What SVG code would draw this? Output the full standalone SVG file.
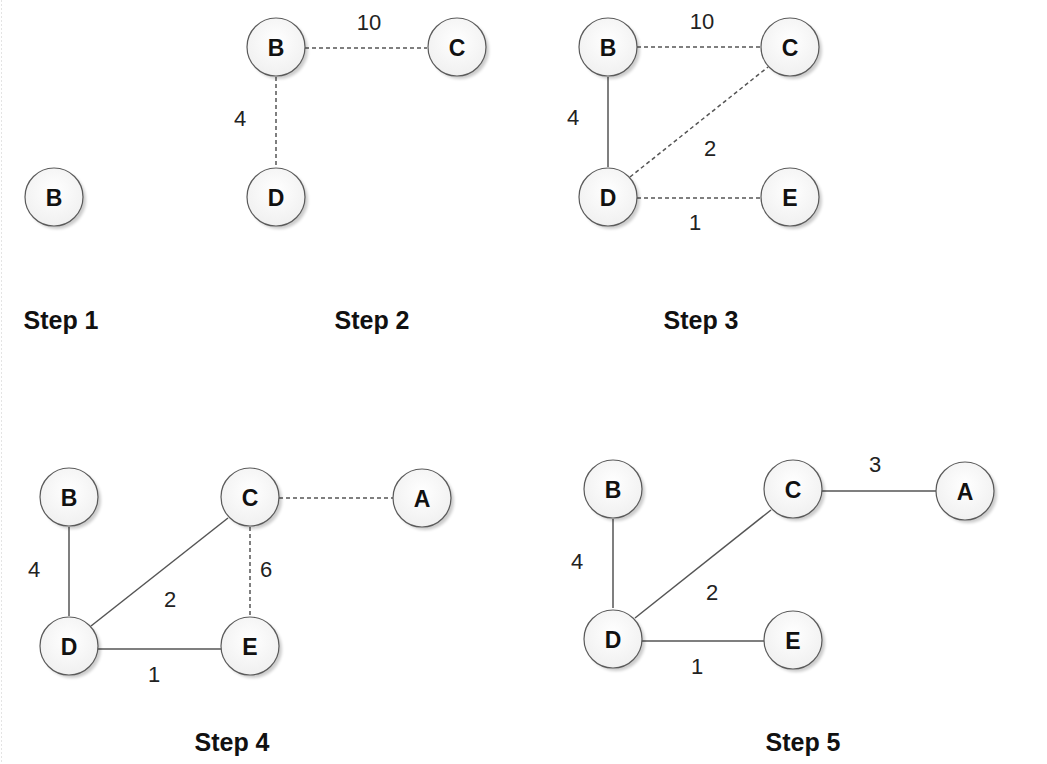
<svg xmlns="http://www.w3.org/2000/svg" width="1047" height="764" viewBox="0 0 1047 764">
<style>
.n circle.s{fill:#000;opacity:.2;filter:url(#bl)}
.n circle.c{fill:url(#g);stroke:#5a5a5a;stroke-width:1.2}
.n text{font-family:"Liberation Sans",Arial,sans-serif;font-weight:bold;font-size:23px;fill:#111;text-anchor:middle;dominant-baseline:central}
.e{stroke:#555;stroke-width:1.5;fill:none}
.d{stroke-dasharray:4 3}
.l{font-family:"Liberation Sans",Arial,sans-serif;font-size:22px;fill:#222;text-anchor:middle}
.t{font-family:"Liberation Sans",Arial,sans-serif;font-weight:bold;font-size:25px;fill:#111;text-anchor:middle}
</style>
<defs>
<filter id="bl" x="-50%" y="-50%" width="200%" height="200%"><feGaussianBlur stdDeviation="1.5"/></filter>
<radialGradient id="g" cx="0.5" cy="0.4" r="0.6"><stop offset="0" stop-color="#ffffff"/><stop offset="1" stop-color="#f0f0f0"/></radialGradient>
</defs>
<rect width="1047" height="764" fill="#fff"/>
<line x1="1.5" y1="0" x2="1.5" y2="764" stroke="#e4e4e4" stroke-width="1" stroke-dasharray="2 2"/>
<g id="connectors">
<line class="e d" x1="305" y1="48" x2="427" y2="48"/>
<line class="e d" x1="276" y1="77" x2="276" y2="167"/>
<line class="e d" x1="637" y1="47" x2="761" y2="47"/>
<line class="e" x1="608" y1="77" x2="608" y2="167"/>
<line class="e d" x1="630" y1="177" x2="768" y2="67"/>
<line class="e d" x1="637" y1="198" x2="761" y2="198"/>
<line class="e" x1="69" y1="527" x2="69" y2="616"/>
<line class="e d" x1="279" y1="498" x2="393" y2="498"/>
<line class="e d" x1="250" y1="527" x2="250" y2="616"/>
<line class="e" x1="91" y1="626" x2="228" y2="518"/>
<line class="e" x1="98" y1="649" x2="221" y2="649"/>
<line class="e" x1="613" y1="519" x2="613" y2="608"/>
<line class="e" x1="822" y1="491" x2="936" y2="491"/>
<line class="e" x1="635" y1="618" x2="771" y2="510"/>
<line class="e" x1="642" y1="641" x2="764" y2="641"/>
</g>
<g id="edge-labels">
<text class="l" x="369" y="30">10</text>
<text class="l" x="240" y="126">4</text>
<text class="l" x="702" y="29">10</text>
<text class="l" x="573" y="125">4</text>
<text class="l" x="710" y="156">2</text>
<text class="l" x="695" y="230">1</text>
<text class="l" x="34" y="577">4</text>
<text class="l" x="266" y="577">6</text>
<text class="l" x="170" y="607">2</text>
<text class="l" x="154" y="682">1</text>
<text class="l" x="875" y="472">3</text>
<text class="l" x="577" y="569">4</text>
<text class="l" x="712" y="600">2</text>
<text class="l" x="697" y="674">1</text>
</g>
<g id="s1-B" class="n"><circle class="s" cx="57" cy="200" r="29"/><circle class="c" cx="54" cy="197" r="29"/><text x="54" y="198">B</text></g>
<g id="s2-B" class="n"><circle class="s" cx="279" cy="50" r="29"/><circle class="c" cx="276" cy="47" r="29"/><text x="276" y="48">B</text></g>
<g id="s2-C" class="n"><circle class="s" cx="460" cy="50" r="29"/><circle class="c" cx="457" cy="47" r="29"/><text x="457" y="48">C</text></g>
<g id="s2-D" class="n"><circle class="s" cx="279" cy="200" r="29"/><circle class="c" cx="276" cy="197" r="29"/><text x="276" y="198">D</text></g>
<g id="s3-B" class="n"><circle class="s" cx="611" cy="50" r="29"/><circle class="c" cx="608" cy="47" r="29"/><text x="608" y="48">B</text></g>
<g id="s3-C" class="n"><circle class="s" cx="793" cy="50" r="29"/><circle class="c" cx="790" cy="47" r="29"/><text x="790" y="48">C</text></g>
<g id="s3-D" class="n"><circle class="s" cx="611" cy="200" r="29"/><circle class="c" cx="608" cy="197" r="29"/><text x="608" y="198">D</text></g>
<g id="s3-E" class="n"><circle class="s" cx="793" cy="200" r="29"/><circle class="c" cx="790" cy="197" r="29"/><text x="790" y="198">E</text></g>
<g id="s4-B" class="n"><circle class="s" cx="72" cy="500" r="29"/><circle class="c" cx="69" cy="497" r="29"/><text x="69" y="498">B</text></g>
<g id="s4-C" class="n"><circle class="s" cx="253" cy="500" r="29"/><circle class="c" cx="250" cy="497" r="29"/><text x="250" y="498">C</text></g>
<g id="s4-A" class="n"><circle class="s" cx="425" cy="501" r="29"/><circle class="c" cx="422" cy="498" r="29"/><text x="422" y="499">A</text></g>
<g id="s4-D" class="n"><circle class="s" cx="72" cy="649" r="29"/><circle class="c" cx="69" cy="646" r="29"/><text x="69" y="647">D</text></g>
<g id="s4-E" class="n"><circle class="s" cx="253" cy="649" r="29"/><circle class="c" cx="250" cy="646" r="29"/><text x="250" y="647">E</text></g>
<g id="s5-B" class="n"><circle class="s" cx="616" cy="492" r="29"/><circle class="c" cx="613" cy="489" r="29"/><text x="613" y="490">B</text></g>
<g id="s5-C" class="n"><circle class="s" cx="796" cy="492" r="29"/><circle class="c" cx="793" cy="489" r="29"/><text x="793" y="490">C</text></g>
<g id="s5-A" class="n"><circle class="s" cx="968" cy="494" r="29"/><circle class="c" cx="965" cy="491" r="29"/><text x="965" y="492">A</text></g>
<g id="s5-D" class="n"><circle class="s" cx="616" cy="642" r="29"/><circle class="c" cx="613" cy="639" r="29"/><text x="613" y="640">D</text></g>
<g id="s5-E" class="n"><circle class="s" cx="796" cy="643" r="29"/><circle class="c" cx="793" cy="640" r="29"/><text x="793" y="641">E</text></g>
<g id="step-labels">
<text class="t" x="61" y="329">Step 1</text>
<text class="t" x="372" y="329">Step 2</text>
<text class="t" x="701" y="329">Step 3</text>
<text class="t" x="232" y="751">Step 4</text>
<text class="t" x="803" y="751">Step 5</text>
</g>
</svg>
